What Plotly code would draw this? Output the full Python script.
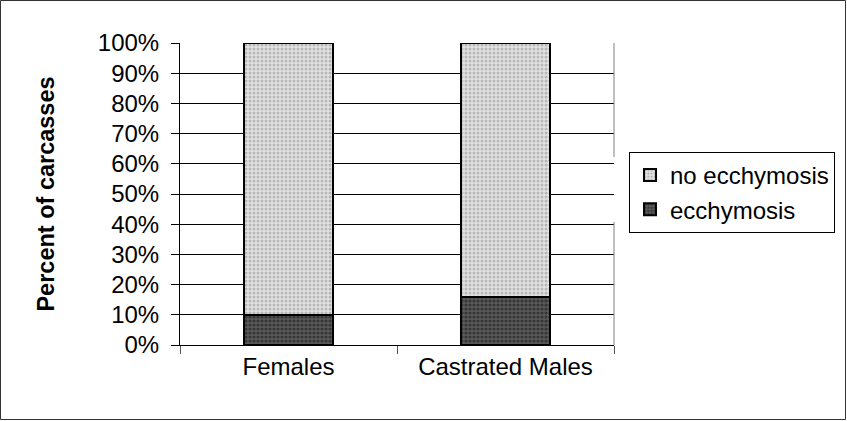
import plotly.graph_objects as go

categories = ["Females", "Castrated Males"]
ecchymosis = [10, 16]
no_ecchymosis = [90, 84]
tick_vals = [0, 10, 20, 30, 40, 50, 60, 70, 80, 90, 100]
tick_text = [f"{v}%" for v in tick_vals]

W, H = 847, 421
ML, MR, MT, MB = 180, 233, 43, 76
PW, PH = W - ML - MR, H - MT - MB

fig = go.Figure()
fig.add_trace(go.Bar(
    x=categories, y=ecchymosis, name="ecchymosis",
    marker=dict(color="#4a4a4a", line=dict(color="black", width=2),
                pattern=dict(shape=".", fgcolor="#111111", bgcolor="#5a5a5a", size=4, solidity=0.5)),
    width=0.41,
))
fig.add_trace(go.Bar(
    x=categories, y=no_ecchymosis, name="no ecchymosis",
    marker=dict(color="#d0d0d0", line=dict(color="black", width=2),
                pattern=dict(shape=".", fgcolor="#8a8a8a", bgcolor="#e2e2e2", size=4, solidity=0.45)),
    width=0.41,
))

def px_to_paper_x(px):
    return (px - ML) / PW

def px_to_paper_y(py):
    return (H - MB - py) / PH

shapes = [
    dict(type="rect", xref="paper", yref="paper",
         x0=px_to_paper_x(0.5), x1=px_to_paper_x(W - 1.5),
         y0=px_to_paper_y(H - 1.5), y1=px_to_paper_y(0.5),
         line=dict(color="#333333", width=1), layer="below"),
    dict(type="line", xref="paper", yref="paper", x0=1, x1=1,
         y0=px_to_paper_y(43), y1=px_to_paper_y(157), line=dict(color="#808080", width=1)),
    dict(type="line", xref="paper", yref="paper", x0=1, x1=1,
         y0=px_to_paper_y(222), y1=px_to_paper_y(345), line=dict(color="#808080", width=1)),
]

fig.update_layout(
    width=W, height=H,
    margin=dict(l=ML, r=MR, t=MT, b=MB),
    barmode="stack",
    plot_bgcolor="white", paper_bgcolor="white",
    font=dict(family="Arial, Liberation Sans, sans-serif", size=24, color="black"),
    showlegend=True,
    legend=dict(
        x=px_to_paper_x(629), y=px_to_paper_y(152), xanchor="left", yanchor="top",
        bordercolor="black", borderwidth=1, bgcolor="white",
        traceorder="reversed", font=dict(size=24),
        itemwidth=30, tracegroupgap=0,
    ),
    xaxis=dict(
        showline=True, linecolor="black", linewidth=1,
        ticks="outside", ticklen=8, tickcolor="#555555", tickson="boundaries",
        showgrid=False, tickfont=dict(size=24),
    ),
    yaxis=dict(
        range=[0, 100], tickvals=tick_vals, ticktext=tick_text,
        showline=True, linecolor="black", linewidth=1,
        ticks="outside", ticklen=8, tickcolor="black",
        showgrid=True, gridcolor="black", gridwidth=1,
        zeroline=False, tickfont=dict(size=24),
        title=dict(text="<b>Percent of carcasses</b>", font=dict(size=23.5), standoff=36),
        ticklabelstandoff=7,
    ),
    shapes=shapes,
)

fig.write_html("out.html", config={"displayModeBar": False},
               post_script="document.body.style.margin='0';document.body.style.overflow='hidden';")
